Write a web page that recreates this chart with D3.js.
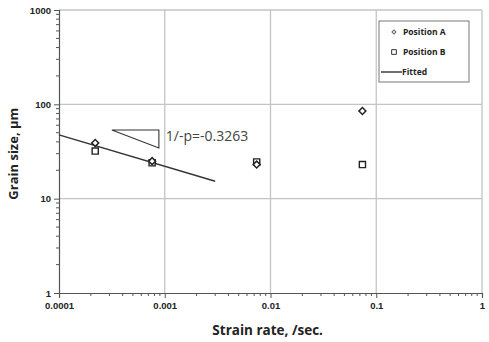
<!DOCTYPE html>
<html>
<head>
<meta charset="utf-8">
<script src="https://cdn.jsdelivr.net/npm/d3@7"></script>
<style>
  body { margin: 0; background: #fff; }
  svg { display: block; font-family: "Open Sans", "Noto Sans", sans-serif; }
</style>
</head>
<body>
<svg id="chart" width="489" height="342"></svg>
<script>
// strain rate (/sec) and grain size (um)
var rateA = [0.00022, 0.00076, 0.0074, 0.074];
var sizeA = [39, 25, 23, 85];
var rateB = [0.00022, 0.00076, 0.0074, 0.074];
var sizeB = [32, 24, 24.5, 23];
var fitRate = [0.0001, 0.003];
var fitSize = [47.5, 15.3];
var triRate = [0.000316, 0.00088, 0.00088, 0.000316];
var triSize = [53.5, 53.5, 34.5, 53.5];
var xTicks = [0.0001, 0.001, 0.01, 0.1, 1];
var xTickLabels = ["0.0001", "0.001", "0.01", "0.1", "1"];
var yTicks = [1, 10, 100, 1000];
var yTickLabels = ["1", "10", "100", "1000"];

var svg = d3.select("#chart"),
    margin = {top: 10, right: 7, bottom: 49, left: 59},
    width = +svg.attr("width") - margin.left - margin.right,
    height = +svg.attr("height") - margin.top - margin.bottom;

var g = svg.append("g").attr("transform", "translate(" + margin.left + "," + margin.top + ")");

var x = d3.scaleLog().domain([0.0001, 1]).range([0, width]);
var y = d3.scaleLog().domain([1, 1000]).range([height, 0]);

// minor ticks 2..9 in every decade
function minors(lo, hi) {
  var out = [];
  for (var d = lo; d < hi; d *= 10) {
    for (var k = 2; k <= 9; k++) out.push(d * k);
  }
  return out;
}

// grid
g.append("g").selectAll("line.gx").data(xTicks.slice(1)).enter().append("line")
    .attr("x1", function(d) { return x(d); }).attr("x2", function(d) { return x(d); })
    .attr("y1", 0).attr("y2", height)
    .attr("stroke", "#c4c4c4").attr("stroke-width", 1.3);
g.append("g").selectAll("line.gy").data(yTicks.slice(1)).enter().append("line")
    .attr("x1", 0).attr("x2", width)
    .attr("y1", function(d) { return y(d); }).attr("y2", function(d) { return y(d); })
    .attr("stroke", "#c4c4c4").attr("stroke-width", 1.3);

// axes
var xAxis = d3.axisBottom(x).tickValues(xTicks)
    .tickFormat(function(d, i) { return xTickLabels[i]; }).tickSize(5).tickPadding(4);
var yAxis = d3.axisLeft(y).tickValues(yTicks)
    .tickFormat(function(d, i) { return yTickLabels[i]; }).tickSize(5).tickPadding(3);

var gx = g.append("g").attr("transform", "translate(0," + height + ")").call(xAxis);
var gy = g.append("g").call(yAxis);
[gx, gy].forEach(function(a) {
  a.select(".domain").attr("stroke", "#555").attr("stroke-width", 1.2);
  a.selectAll(".tick line").attr("stroke", "#555");
  a.selectAll(".tick text").attr("font-size", "9.5px").attr("font-weight", "bold").attr("fill", "#222");
});

g.append("g").selectAll("line").data(minors(0.0001, 1)).enter().append("line")
    .attr("x1", function(d) { return x(d); }).attr("x2", function(d) { return x(d); })
    .attr("y1", height).attr("y2", height + 3).attr("stroke", "#555");
g.append("g").selectAll("line").data(minors(1, 1000)).enter().append("line")
    .attr("x1", 0).attr("x2", -3)
    .attr("y1", function(d) { return y(d); }).attr("y2", function(d) { return y(d); })
    .attr("stroke", "#555");

// axis titles
svg.append("text")
    .attr("transform", "translate(18," + (margin.top + y(30)) + ") rotate(-90)")
    .attr("text-anchor", "middle").attr("font-size", "13px").attr("font-weight", "bold")
    .attr("fill", "#222").text("Grain size, μm");
svg.append("text")
    .attr("x", margin.left + x(0.0094)).attr("y", 335)
    .attr("text-anchor", "middle").attr("font-size", "13.5px").attr("font-weight", "bold")
    .attr("fill", "#222").text("Strain rate, /sec.");

// fitted line
var line = d3.line().x(function(d) { return x(d[0]); }).y(function(d) { return y(d[1]); });
g.append("path").datum(d3.zip(fitRate, fitSize))
    .attr("fill", "none").attr("stroke", "#333").attr("stroke-width", 1.4).attr("d", line);

// slope triangle
g.append("path").datum(d3.zip(triRate, triSize))
    .attr("fill", "none").attr("stroke", "#333").attr("stroke-width", 1.1).attr("d", line);
g.append("text").attr("x", x(0.00098) + 2).attr("y", y(41))
    .attr("font-size", "14px").attr("fill", "#444").text("1/-p=-0.3263");

// markers (diamond = square turned 45 deg)
var diamond = d3.symbol().type(d3.symbolSquare).size(24);
var square = d3.symbol().type(d3.symbolSquare).size(38);
g.append("g").selectAll("path").data(d3.zip(rateB, sizeB)).enter().append("path")
    .attr("d", square)
    .attr("transform", function(d) { return "translate(" + x(d[0]) + "," + y(d[1]) + ")"; })
    .attr("fill", "#fff").attr("stroke", "#222").attr("stroke-width", 1.4);
g.append("g").selectAll("path").data(d3.zip(rateA, sizeA)).enter().append("path")
    .attr("d", diamond)
    .attr("transform", function(d) { return "translate(" + x(d[0]) + "," + y(d[1]) + ") rotate(45)"; })
    .attr("fill", "#fff").attr("stroke", "#222").attr("stroke-width", 1.5);

// legend
var lg = svg.append("g").attr("transform", "translate(379,21)");
lg.append("rect").attr("width", 90).attr("height", 61)
    .attr("fill", "#fff").attr("stroke", "#777").attr("stroke-width", 1);
var legend = [{text: "Position A", sym: "diamond"}, {text: "Position B", sym: "square"}, {text: "Fitted", sym: "line"}];
legend.forEach(function(d, i) {
  var ly = 11 + i * 20;
  if (d.sym == "diamond") {
    lg.append("path").attr("d", d3.symbol().type(d3.symbolSquare).size(8))
        .attr("transform", "translate(15," + ly + ") rotate(45)").attr("fill", "#fff").attr("stroke", "#666");
  } else if (d.sym == "square") {
    lg.append("path").attr("d", d3.symbol().type(d3.symbolSquare).size(22))
        .attr("transform", "translate(15," + ly + ")").attr("fill", "#fff").attr("stroke", "#333");
  } else {
    lg.append("line").attr("x1", 2).attr("x2", 23).attr("y1", ly).attr("y2", ly)
        .attr("stroke", "#222").attr("stroke-width", 1.3);
  }
  lg.append("text").attr("x", d.sym == "line" ? 23 : 24).attr("y", ly + 3)
      .attr("font-size", "8.5px").attr("font-weight", "bold").attr("fill", "#222").text(d.text);
});
</script>
</body>
</html>
